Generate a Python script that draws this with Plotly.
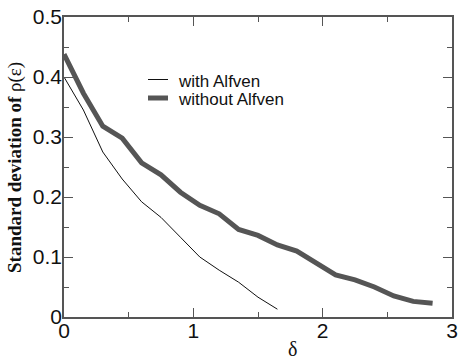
import plotly.graph_objects as go

# Data
delta_without = [0, 0.15, 0.3, 0.45, 0.6, 0.75, 0.9, 1.05, 1.2, 1.35, 1.5, 1.65, 1.8, 1.95, 2.1, 2.25, 2.4, 2.55, 2.7, 2.85]
std_without = [0.438, 0.373, 0.318, 0.298, 0.257, 0.237, 0.208, 0.186, 0.172, 0.146, 0.136, 0.120, 0.110, 0.089, 0.070, 0.062, 0.050, 0.035, 0.026, 0.023]

delta_with = [0, 0.15, 0.3, 0.45, 0.6, 0.75, 0.9, 1.05, 1.2, 1.35, 1.5, 1.65]
std_with = [0.400, 0.345, 0.275, 0.230, 0.192, 0.166, 0.133, 0.100, 0.078, 0.058, 0.033, 0.013]

x_tickvals = [0, 1, 2, 3]
x_ticktext = ["0", "1", "2", "3"]
y_tickvals = [0, 0.1, 0.2, 0.3, 0.4, 0.5]
y_ticktext = ["0", "0.1", "0.2", "0.3", "0.4", "0.5"]

legend_names = ["with Alfven", "without Alfven"]

AX = "#555555"
fig = go.Figure()
fig.add_trace(go.Scatter(x=delta_with, y=std_with, mode="lines", name=legend_names[0],
                         line=dict(color="#111111", width=1), showlegend=False))
fig.add_trace(go.Scatter(x=delta_without, y=std_without, mode="lines", name=legend_names[1],
                         line=dict(color="#555555", width=5), showlegend=False))

axis_common = dict(showgrid=False, zeroline=False, showline=True, linecolor=AX, linewidth=1.5,
                   ticks="inside", ticklen=9, tickwidth=1.2, tickcolor=AX, mirror="allticks",
                   automargin=False,
                   tickfont=dict(family="Liberation Sans, Arial, sans-serif", size=21, color="#111111"))

fig.update_xaxes(range=[0, 3], tickvals=x_tickvals, ticktext=x_ticktext, ticklabelstandoff=-6,
                 minor=dict(ticks="inside", ticklen=5, dtick=0.5, tick0=0, tickcolor=AX, tickwidth=1.2),
                 **axis_common)
fig.update_yaxes(range=[0, 0.5], tickvals=y_tickvals, ticktext=y_ticktext, ticklabelstandoff=-4,
                 minor=dict(ticks="inside", ticklen=5, dtick=0.05, tick0=0, tickcolor=AX, tickwidth=1.2),
                 **axis_common)

# Manual legend (short line samples like the reference)
leg_font = dict(family="Liberation Sans, Arial, sans-serif", size=17, color="#111111")
def px_x(p):
    return (p - 64) / 388
def px_y(p):
    return (317 - p) / 300

fig.add_shape(type="line", xref="paper", yref="paper", x0=px_x(148), x1=px_x(168), y0=px_y(79.5), y1=px_y(79.5),
              line=dict(color="#111111", width=1))
fig.add_shape(type="line", xref="paper", yref="paper", x0=px_x(148), x1=px_x(168), y0=px_y(98), y1=px_y(98),
              line=dict(color="#555555", width=5))
fig.add_annotation(xref="paper", yref="paper", x=px_x(176), y=px_y(81), text=legend_names[0],
                   showarrow=False, xanchor="left", yanchor="middle", font=leg_font)
fig.add_annotation(xref="paper", yref="paper", x=px_x(176), y=px_y(99), text=legend_names[1],
                   showarrow=False, xanchor="left", yanchor="middle", font=leg_font)

# Axis titles
fig.add_annotation(xref="paper", yref="paper", x=px_x(15), y=px_y(168), text="<b>Standard deviation of</b> ρ(ε)",
                   textangle=-90, showarrow=False, xanchor="center", yanchor="middle",
                   font=dict(family="Liberation Serif, Times New Roman, serif", size=19, color="#111111"))
fig.add_annotation(xref="paper", yref="paper", x=px_x(292), y=px_y(349), text="δ",
                   showarrow=False, xanchor="center", yanchor="middle",
                   font=dict(family="Liberation Serif, Times New Roman, serif", size=20, color="#111111"))

fig.update_layout(width=458, height=360, margin=dict(l=64, r=6, t=17, b=43),
                  paper_bgcolor="white", plot_bgcolor="white", showlegend=False)

fig.write_html("out.html", config={"displayModeBar": False},
               post_script="document.body.style.margin='0';")
